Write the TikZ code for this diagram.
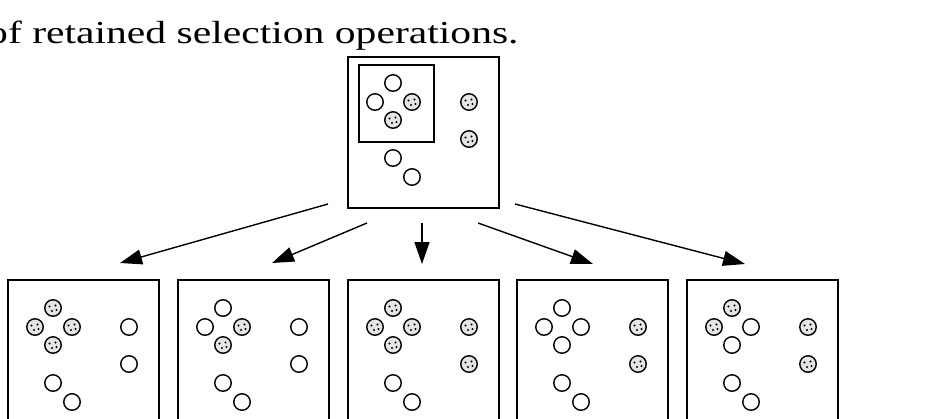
\documentclass[tikz,border=0pt]{standalone}
\usepackage{fontspec}
\setmainfont{Liberation Serif}
\usetikzlibrary{arrows.meta}

\begin{document}
\begin{tikzpicture}[
  x=1pt, y=-1pt,
  panel/.style={draw,rectangle,line width=1.6pt,minimum width=151pt,minimum height=151pt,inner sep=0pt,anchor=north west},
  onode/.style={draw,circle,line width=1.4pt,minimum size=16.5pt,inner sep=0pt},
  hnode/.style={onode,path picture={
      \fill[gray!20] (path picture bounding box.center) circle (8pt);
      \fill (path picture bounding box.center) ++(-3.5pt,1.5pt) circle (1.1pt);
      \fill (path picture bounding box.center) ++(2.5pt,2.5pt) circle (1.1pt);
      \fill (path picture bounding box.center) ++(-1pt,-3pt) circle (1.1pt);
      \fill (path picture bounding box.center) ++(3.5pt,-2pt) circle (1.1pt);}}
]
  \useasboundingbox (0,0) rectangle (933,418);
  \clip (0,0) rectangle (933,418);

  % caption line
  \node[anchor=base west,inner sep=0pt] (cap) at (-13,43)
    {\scalebox{1.3}[1]{\fontsize{32}{38}\selectfont of retained selection operations.}};

  % initial state
  \node[panel] (top) at (347,56) {};
  \node[draw,rectangle,line width=1.6pt,minimum width=75pt,minimum height=77pt,inner sep=0pt,anchor=north west] (sel) at (358,64) {};
  \begin{scope}[shift={(347,55)}]
    \node[onode] (top-t) at (46,28) {};
    \node[onode] (top-l) at (28,47) {};
    \node[hnode] (top-r) at (65,47) {};
    \node[hnode] (top-b) at (46,65) {};
    \node[hnode] (top-c1) at (122,47) {};
    \node[hnode] (top-c2) at (122,84) {};
    \node[onode] (top-d1) at (46,103) {};
    \node[onode] (top-d2) at (65,122) {};
  \end{scope}

  % results
  \foreach \n/\x/\a/\b/\c/\d/\e in {p1/7/hnode/hnode/hnode/hnode/onode,
                                   p2/177/onode/onode/hnode/hnode/onode,
                                   p3/347/hnode/hnode/hnode/hnode/hnode,
                                   p4/516/onode/onode/onode/onode/hnode,
                                   p5/686/hnode/hnode/onode/onode/hnode} {
    \node[panel] (\n) at (\x,279) {};
    \begin{scope}[shift={(\x,279)}]
      \node[\a] (\n-t) at (46,29) {};
      \node[\b] (\n-l) at (28,48) {};
      \node[\c] (\n-r) at (65,48) {};
      \node[\d] (\n-b) at (46,66) {};
      \node[\e] (\n-c1) at (122,48) {};
      \node[\e] (\n-c2) at (122,85) {};
      \node[onode] (\n-d1) at (46,104) {};
      \node[onode] (\n-d2) at (65,123) {};
    \end{scope}
  }

  % arrow ends
  \coordinate (s1) at (328,204);
  \coordinate (s2) at (367,223);
  \coordinate (s3) at (422,223);
  \coordinate (s4) at (478,223);
  \coordinate (s5) at (515,204);
  \coordinate (t1) at (120,263);
  \coordinate (t2) at (272,263);
  \coordinate (t3) at (422,264);
  \coordinate (t4) at (593,264);
  \coordinate (t5) at (745,264);

  % edges
  \draw[line width=1.4pt,-{Triangle[length=22pt,width=15pt]}] (s1) -- (t1);
  \draw[line width=1.4pt,-{Triangle[length=22pt,width=15pt]}] (s2) -- (t2);
  \draw[line width=1.4pt,-{Triangle[length=22pt,width=15pt]}] (s3) -- (t3);
  \draw[line width=1.4pt,-{Triangle[length=22pt,width=15pt]}] (s4) -- (t4);
  \draw[line width=1.4pt,-{Triangle[length=22pt,width=15pt]}] (s5) -- (t5);
\end{tikzpicture}
\end{document}
